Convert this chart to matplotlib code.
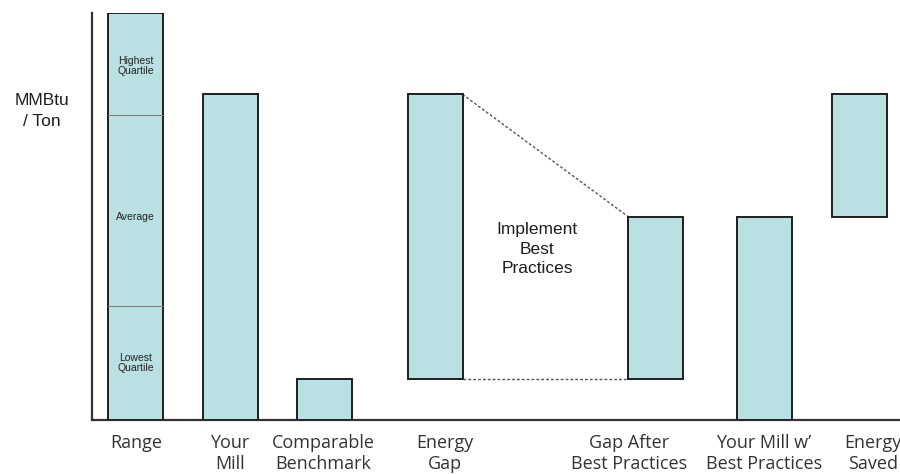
import matplotlib
matplotlib.use("Agg")
import matplotlib.pyplot as plt

# Categories and bar extents (MMBtu / Ton, relative scale)
categories = ["Range", "Your\nMill", "Comparable\nBenchmark", "Energy\nGap",
              "Gap After\nBest Practices", "Your Mill w\u2019\nBest Practices", "Energy\nSaved"]
bar_bottoms = [0, 0, 0, 10, 10, 0, 50]
bar_tops = [100, 80, 10, 80, 50, 50, 80]
quartile_cuts = [28, 75]
range_labels = ["Lowest\nQuartile", "Average", "Highest\nQuartile"]
range_label_y = [14, 50, 87]

# Layout (x in axis units)
bar_x = [43.5, 138, 232, 343, 563.5, 672.5, 767.5]
label_x = [44, 138, 231, 353, 537, 672, 781]
bar_w = 55

fig = plt.figure(figsize=(9, 4.74), dpi=100)
ax = fig.add_axes([92 / 900, 54 / 474, 808 / 900, 407 / 474])
ax.set_xlim(0, 808)
ax.set_ylim(0, 100)

fill = "#b9e0e2"
edge = "#1e1e1e"
heights = [t - b for t, b in zip(bar_tops, bar_bottoms)]
ax.bar(bar_x, heights, bottom=bar_bottoms, width=bar_w, color=fill,
       edgecolor=edge, linewidth=1.4, zorder=3)

# Quartile dividers inside the range bar
for q in quartile_cuts:
    ax.plot([bar_x[0] - bar_w / 2, bar_x[0] + bar_w / 2], [q, q],
            color="#777777", linewidth=0.7, zorder=4)
for txt, yy in zip(range_labels, range_label_y):
    ax.text(bar_x[0], yy, txt, ha="center", va="center", fontsize=7.5,
            family="Liberation Sans", color="#222222", linespacing=1.05, zorder=5)

# Dashed connectors between energy gap and gap after best practices
x0 = bar_x[3] + bar_w / 2
x1 = bar_x[4] - bar_w / 2
ax.plot([x0, x1], [bar_tops[3], bar_tops[4]], linestyle=(0, (2, 1.5)),
        color="#555555", linewidth=1.0, zorder=2)
ax.plot([x0, x1], [bar_bottoms[3], bar_bottoms[4]], linestyle=(0, (2, 1.5)),
        color="#555555", linewidth=1.0, zorder=2)
ax.text((x0 + x1) / 2 - 8, 42, "Implement\nBest\nPractices", ha="center",
        va="center", fontsize=12.5, family="Liberation Sans", color="#1e1e1e",
        linespacing=1.4)

# Category labels under the axis
for txt, xx in zip(categories, label_x):
    ax.text(xx, -3.4, txt, ha="center", va="top", fontsize=13,
            family="Open Sans", color="#333333", linespacing=1.25,
            clip_on=False)

fig.text(42 / 900, 1 - 111 / 474, "MMBtu\n/ Ton", ha="center", va="center",
         fontsize=12.5, family="Liberation Sans", color="#1e1e1e", linespacing=1.55)

for s in ["top", "right"]:
    ax.spines[s].set_visible(False)
for s in ["left", "bottom"]:
    ax.spines[s].set_linewidth(1.6)
    ax.spines[s].set_color("#333333")
ax.set_xticks([])
ax.set_yticks([])

fig.savefig("out.png", dpi=100)
